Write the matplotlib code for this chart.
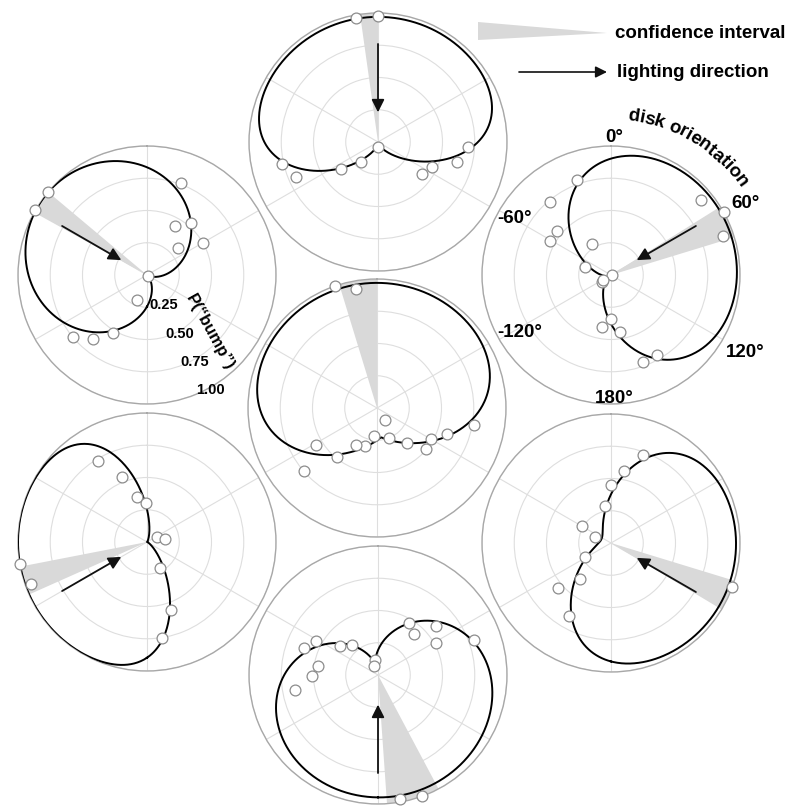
import math
import numpy as np
import matplotlib
matplotlib.use('Agg')
import matplotlib.pyplot as plt

plt.rcParams['font.family'] = ['Liberation Sans', 'DejaVu Sans']

W, H = 787, 809
RP = 129  # panel radius in px

# panel order: top, center, upper-left, upper-right, lower-left, lower-right, bottom
centers = [(378, 142), (377, 408), (147, 275), (611, 275), (147, 542), (611, 543), (378, 675)]

# lighting direction (deg, clockwise from up); None = no arrow
light_dir = [0, None, -60, 60, -120, 120, 180]

# confidence interval of the fitted preferred orientation (deg)
ci_lo = [-8, -17, -61, 58, -114, 107, 152]
ci_hi = [0, 0, -50, 73, -101, 121, 176]

# fitted curve: preferred direction, bias, slope, shape exponent, floor, ceiling
fit_dir = [-5, -8, -53, 65, -106, 113, 166]
fit_a = [1.1, 0.8, 0.0, 0.6, 0.3, 0.6, 1.0]
fit_b = [2.8, 2.5, 0.5, 1.9, 3.5, 2.5, 1.2]
fit_k = [1.0, 0.6, 0.85, 1.0, 1.0, 1.0, 0.6]
fit_lo = [0.02, 0.23, 0.0, 0.04, 0.0, 0.08, 0.10]
fit_hi = [0.97, 0.97, 1.0, 0.98, 1.0, 0.97, 0.95]

# observed proportions: disk orientation (deg) and P("bump")
top_ang = [-10, 0, -103, -113, -126, -140, 180, 126, 115, 104, 93]
top_p = [0.98, 0.98, 0.76, 0.69, 0.35, 0.20, 0.04, 0.42, 0.46, 0.63, 0.70]

center_ang = [-19, -10, 148, 159, -173, -163, -151, 139, 120, 130, 110, 100, -121, -141, -131]
center_p = [1.0, 0.94, 0.11, 0.25, 0.22, 0.31, 0.33, 0.36, 0.48, 0.50, 0.58, 0.76, 0.55, 0.49, 0.75]

ul_ang = [-50, -60, 20, 30, 40, 60, 49, 120, -158, -150, -140, -130]
ul_p = [1.0, 1.0, 0.76, 0.44, 0.53, 0.50, 0.32, 0.01, 0.21, 0.52, 0.65, 0.75]

ur_ang = [-20, -40, -51, -61, -31, -72, 90, -126, -123, 180, -170, 171, 150, 160, 50, 61, 71]
ur_p = [0.78, 0.74, 0.54, 0.54, 0.28, 0.21, 0.01, 0.09, 0.07, 0.34, 0.41, 0.45, 0.72, 0.72, 0.91, 1.0, 0.92]

ll_ang = [-100, -110, -31, -21, -12, -2, 63, 82, 153, 161, 171]
ll_p = [1.0, 0.96, 0.73, 0.54, 0.36, 0.30, 0.09, 0.14, 0.23, 0.56, 0.75]

lr_ang = [20, 10, 0, -10, -60, -69, -119, -139, -130, -150, 110]
lr_p = [0.73, 0.57, 0.45, 0.29, 0.26, 0.13, 0.23, 0.37, 0.54, 0.65, 1.0]

bot_ang = [170, 160, -100, -91, -81, -70, -61, -52, -41, -12, -24, 31, 41, 50, 61, 70]
bot_p = [0.98, 1.0, 0.65, 0.51, 0.47, 0.61, 0.55, 0.37, 0.31, 0.12, 0.08, 0.47, 0.42, 0.59, 0.51, 0.79]

point_ang = [top_ang, center_ang, ul_ang, ur_ang, ll_ang, lr_ang, bot_ang]
point_p = [top_p, center_p, ul_p, ur_p, ll_p, lr_p, bot_p]

r_ticks = [0.25, 0.50, 0.75, 1.00]
deg_labels = ['0°', '60°', '120°', '180°', '-60°', '-120°']
deg_label_pos = [(614, 137), (746, 203), (745, 352), (614, 398), (515, 218), (520, 332)]

erf = np.vectorize(math.erf)


def Phi(x):
    return 0.5 * (1 + erf(np.asarray(x) / math.sqrt(2)))


def psychometric(theta_deg, i):
    d = np.deg2rad(theta_deg - fit_dir[i])
    a, b = fit_a[i], fit_b[i]
    s = (Phi(a + b * np.cos(d)) - Phi(a - b)) / (Phi(a + b) - Phi(a - b))
    s = np.clip(s, 0, 1) ** fit_k[i]
    return fit_lo[i] + (fit_hi[i] - fit_lo[i]) * s


fig = plt.figure(figsize=(W / 100, H / 100), dpi=100)

theta_fine = np.linspace(-180, 180, 721)
for i, (cx, cy) in enumerate(centers):
    ax = fig.add_axes([(cx - RP) / W, 1 - (cy + RP) / H, 2 * RP / W, 2 * RP / H],
                      projection='polar')
    ax.set_facecolor('none')
    ax.set_theta_zero_location('N')
    ax.set_theta_direction(-1)
    ax.set_ylim(0, 1)
    ax.set_yticks(r_ticks)
    ax.set_yticklabels([])
    ax.set_xticks(np.deg2rad(np.arange(0, 360, 60)))
    ax.set_xticklabels([])
    ax.grid(True, color='#dedede', lw=0.8)
    ax.spines['polar'].set_color('#a8a8a8')
    ax.spines['polar'].set_linewidth(1.0)
    ax.tick_params(length=0, pad=0)

    # confidence wedge
    wt = np.deg2rad(np.linspace(ci_lo[i], ci_hi[i], 30))
    ax.fill(np.r_[0, wt, 0], np.r_[0, np.ones_like(wt), 0], color='#d9d9d9', lw=0, zorder=2)

    # fitted curve
    ax.plot(np.deg2rad(theta_fine), psychometric(theta_fine, i), color='black', lw=1.4, zorder=3)

    # lighting direction
    if light_dir[i] is not None:
        t = np.deg2rad(light_dir[i])
        ax.annotate('', xy=(t, 0.23), xytext=(t, 0.76),
                    arrowprops=dict(arrowstyle='-|>', color='#111111', lw=1.3,
                                    mutation_scale=19, shrinkA=0, shrinkB=0),
                    zorder=4)

    # observations
    ax.plot(np.deg2rad(point_ang[i]), point_p[i], 'o', ms=7.8, mfc='white', mec='#8c8c8c',
            mew=0.9, zorder=5, clip_on=False)

    if i == 2:
        for v in r_ticks:
            ax.text(np.deg2rad(151), v + 0.02, f'{v:.2f}', ha='center', va='center',
                    fontsize=10.5, fontweight='bold', zorder=6)

# overlay for legend and free text, pixel coordinates
ov = fig.add_axes([0, 0, 1, 1], zorder=10)
ov.set_xlim(0, W)
ov.set_ylim(H, 0)
ov.axis('off')
ov.patch.set_alpha(0)

ov.fill([478, 478, 607], [22, 40, 33], color='#d9d9d9', lw=0)
ov.text(615, 33, 'confidence interval', ha='left', va='center', fontsize=13.5, fontweight='bold')
ov.annotate('', xy=(607, 72), xytext=(519, 72),
            arrowprops=dict(arrowstyle='-|>', color='#111111', lw=1.2,
                            mutation_scale=17, shrinkA=0, shrinkB=0))
ov.text(617, 72, 'lighting direction', ha='left', va='center', fontsize=13.5, fontweight='bold')

for lab, (x, y) in zip(deg_labels, deg_label_pos):
    ov.text(x, y, lab, ha='center', va='center', fontsize=13.5, fontweight='bold')

ov.text(210, 332, 'P(\u201cbump\u201d)', ha='center', va='center', rotation=-61,
        fontsize=12, fontweight='bold')

# curved "disk orientation" label around the upper-right panel
renderer = fig.canvas.get_renderer()
label = 'disk orientation'
widths = []
for ch in label:
    t = ov.text(0, 0, ch if ch != ' ' else 'i', fontsize=13.5, fontweight='bold')
    widths.append(t.get_window_extent(renderer).width)
    t.remove()
R_arc, mid = 160.0, 31.0
total = sum(widths)
a0 = math.radians(mid) - total / R_arc / 2
cum = 0.0
cx, cy = centers[3]
for ch, w in zip(label, widths):
    a = a0 + (cum + w / 2) / R_arc
    cum += w
    ov.text(cx + R_arc * math.sin(a), cy - R_arc * math.cos(a), ch, ha='center', va='center',
            rotation=-math.degrees(a), rotation_mode='anchor', fontsize=13.5, fontweight='bold')

fig.savefig('out.png', dpi=100)
